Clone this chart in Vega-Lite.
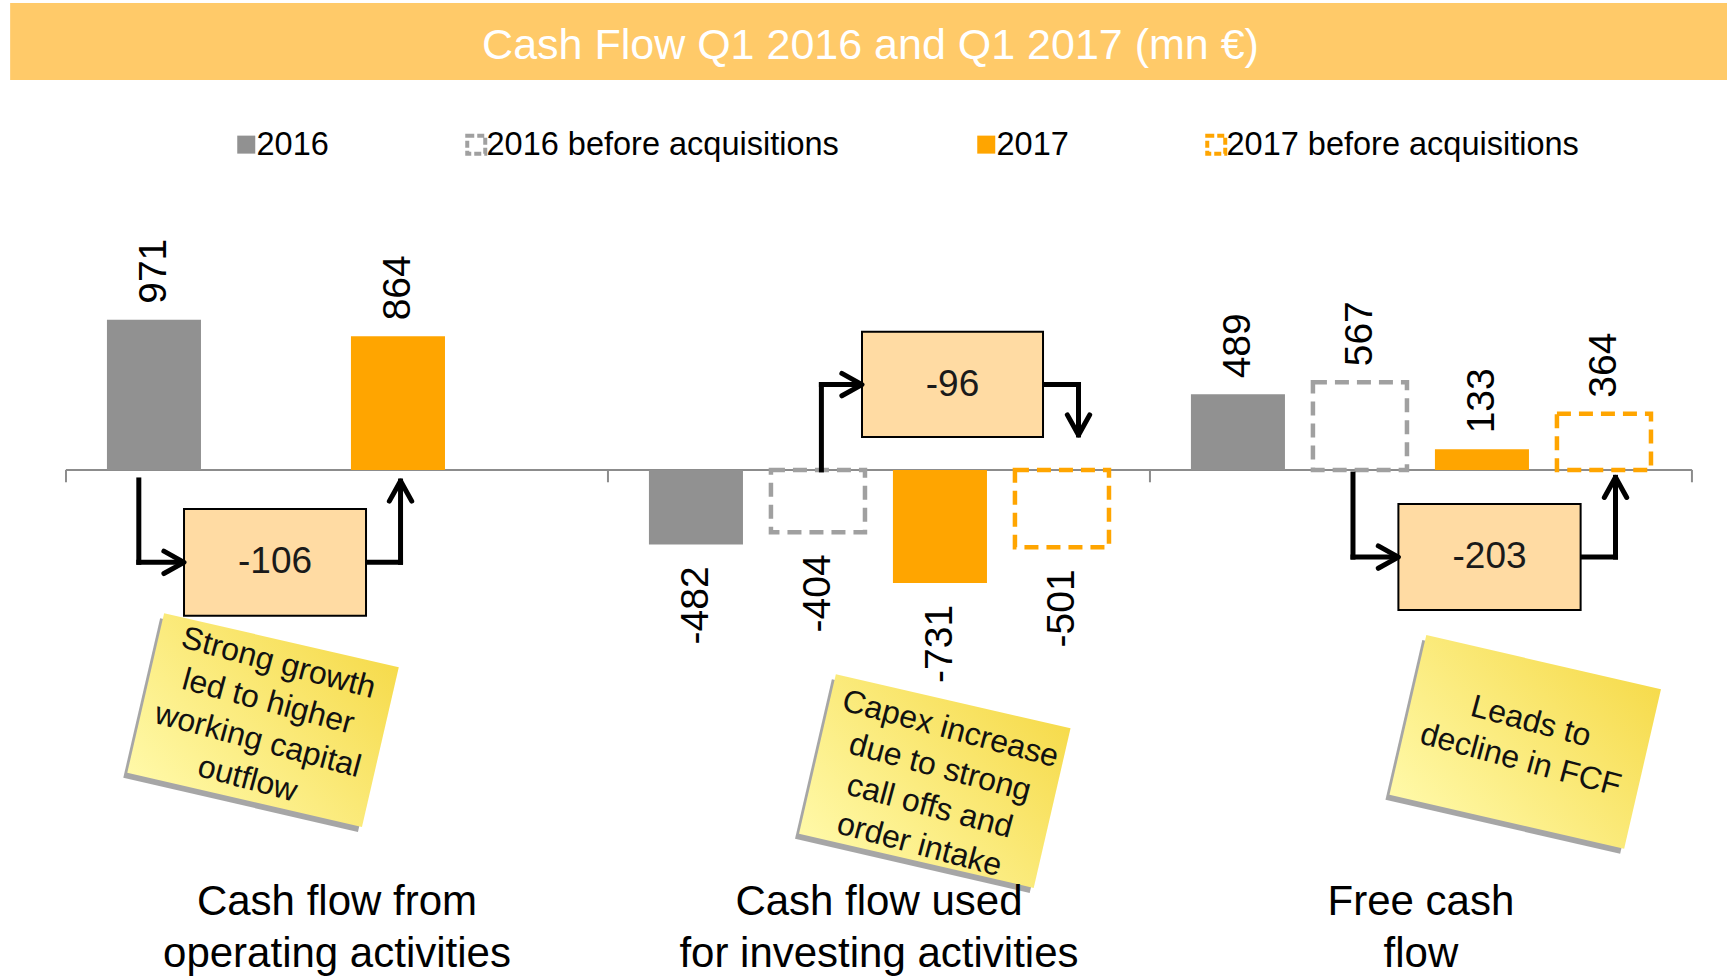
{
  "$schema": "https://vega.github.io/schema/vega-lite/v6.json",
  "width": 1727,
  "height": 980,
  "autosize": {"type": "none"},
  "padding": 0,
  "background": "white",
  "config": {
    "view": {"stroke": null},
    "font": "Liberation Sans",
    "axis": {"disable": true, "grid": false, "labels": false, "ticks": false, "domain": false},
    "legend": {"orient": "none", "legendX": 230, "legendY": 128, "direction": "horizontal", "padding": 0, "title": null,
               "labelFontSize": 32.5, "labelFont": "Liberation Sans", "labelColor": "#000000", "labelLimit": 800,
               "symbolSize": 324, "symbolType": "square", "columnPadding": 130, "labelOffset": -6,
               "symbolStrokeWidth": 4, "symbolDash": [7, 3], "symbolOpacity": 1}
  },
  "datasets": {
    "flows": [
      {"group": "Cash flow from operating activities", "series": "2016", "value": 971},
      {"group": "Cash flow from operating activities", "series": "2017", "value": 864},
      {"group": "Cash flow used for investing activities", "series": "2016", "value": -482},
      {"group": "Cash flow used for investing activities", "series": "2016 before acquisitions", "value": -404},
      {"group": "Cash flow used for investing activities", "series": "2017", "value": -731},
      {"group": "Cash flow used for investing activities", "series": "2017 before acquisitions", "value": -501},
      {"group": "Free cash flow", "series": "2016", "value": 489},
      {"group": "Free cash flow", "series": "2016 before acquisitions", "value": 567},
      {"group": "Free cash flow", "series": "2017", "value": 133},
      {"group": "Free cash flow", "series": "2017 before acquisitions", "value": 364}
    ],
    "cats": [
      {"group": "Cash flow from operating activities", "label": "Cash flow from\noperating activities"},
      {"group": "Cash flow used for investing activities", "label": "Cash flow used\nfor investing activities"},
      {"group": "Free cash flow", "label": "Free cash\nflow"}
    ]
  },
  "layer": [
    {
      "data": {"values": [{"a": "Cash flow from operating activities", "b": "Free cash flow"}]},
      "mark": {"type": "rect", "color": "#FFCA69"},
      "encoding": {
        "x": {"field": "a", "type": "nominal", "bandPosition": -0.103},
        "x2": {"field": "b", "bandPosition": 1.07},
        "y": {"datum": 3020, "type": "quantitative"}, "y2": {"datum": 2522}}
    },
    {
      "data": {"values": [{}]},
      "mark": {"type": "text", "text": "Cash Flow Q1 2016 and Q1 2017 (mn €)", "fontSize": 43, "color": "white", "baseline": "middle", "dx": 7},
      "encoding": {"y": {"datum": 2742, "type": "quantitative"}}
    },
    {
      "data": {"values": [{"a": "Cash flow from operating activities", "b": "Free cash flow"}]},
      "mark": {"type": "rule", "color": "#8C8C8C", "strokeWidth": 2},
      "encoding": {
        "x": {"field": "a", "type": "nominal", "bandPosition": 0},
        "x2": {"field": "b", "bandPosition": 1},
        "y": {"datum": 0, "type": "quantitative"}
      }
    },
    {
      "data": {"name": "cats"},
      "mark": {"type": "rule", "color": "#8C8C8C", "strokeWidth": 2},
      "encoding": {
        "x": {"field": "group", "type": "nominal", "bandPosition": 0},
        "y": {"datum": 0, "type": "quantitative"},
        "y2": {"datum": -80}
      }
    },
    {
      "data": {"values": [{"group": "Free cash flow"}]},
      "mark": {"type": "rule", "color": "#8C8C8C", "strokeWidth": 2},
      "encoding": {
        "x": {"field": "group", "type": "nominal", "bandPosition": 1},
        "y": {"datum": 0, "type": "quantitative"},
        "y2": {"datum": -80}
      }
    },

    {
      "data": {"name": "flows"},
      "transform": [{"filter": "datum.series == '2016'"}],
      "layer": [
        {"mark": {"type": "rect", "strokeWidth": 4},
         "encoding": {
           "x": {"field": "group", "type": "nominal", "bandPosition": 0.0756, "axis": null,
                 "scale": {"type": "band", "domain": ["Cash flow from operating activities", "Cash flow used for investing activities", "Free cash flow"], "paddingInner": 0, "paddingOuter": 0.0932, "align": 0.653}},
           "x2": {"field": "group", "bandPosition": 0.2491},
           "y": {"field": "value", "type": "quantitative", "axis": null, "scale": {"domain": [-3300, 3040], "nice": false, "zero": false}},
           "y2": {"datum": 0},
           "color": {"field": "series", "type": "nominal",
              "scale": {"domain": ["2016", "2016 before acquisitions", "2017", "2017 before acquisitions"], "range": ["#919191", "white", "#FFA500", "white"]},
              "legend": {"title": null}},
           "stroke": {"field": "series", "type": "nominal",
              "scale": {"domain": ["2016", "2016 before acquisitions", "2017", "2017 before acquisitions"], "range": ["transparent", "#A0A0A0", "transparent", "#FFA500"]},
              "legend": {"title": null}}
         }},
        {"transform": [{"filter": "datum.value > 0"}],
         "mark": {"type": "text", "angle": 270, "align": "left", "baseline": "middle", "dx": 16, "fontSize": 39, "color": "#000000"},
         "encoding": {"x": {"field": "group", "type": "nominal", "bandPosition": 0.1624}, "y": {"field": "value", "type": "quantitative"}, "text": {"field": "value", "type": "nominal"}}},
        {"transform": [{"filter": "datum.value < 0"}],
         "mark": {"type": "text", "angle": 270, "align": "right", "baseline": "middle", "dx": -22, "fontSize": 39, "color": "#000000"},
         "encoding": {"x": {"field": "group", "type": "nominal", "bandPosition": 0.1624}, "y": {"field": "value", "type": "quantitative"}, "text": {"field": "value", "type": "nominal"}}}
      ]
    },
    {
      "data": {"name": "flows"},
      "transform": [{"filter": "datum.series == '2016 before acquisitions'"}],
      "layer": [
        {"mark": {"type": "rect", "fillOpacity": 0, "strokeWidth": 4.5, "strokeDash": [14, 8]},
         "encoding": {
           "x": {"field": "group", "type": "nominal", "bandPosition": 0.3007},
           "x2": {"field": "group", "bandPosition": 0.4742},
           "y": {"field": "value", "type": "quantitative"},
           "y2": {"datum": 0},
           "color": {"field": "series", "type": "nominal", "legend": null},
           "stroke": {"field": "series", "type": "nominal", "legend": null}
         }},
        {"transform": [{"filter": "datum.value > 0"}],
         "mark": {"type": "text", "angle": 270, "align": "left", "baseline": "middle", "dx": 16, "fontSize": 39, "color": "#000000"},
         "encoding": {"x": {"field": "group", "type": "nominal", "bandPosition": 0.3875}, "y": {"field": "value", "type": "quantitative"}, "text": {"field": "value", "type": "nominal"}}},
        {"transform": [{"filter": "datum.value < 0"}],
         "mark": {"type": "text", "angle": 270, "align": "right", "baseline": "middle", "dx": -22, "fontSize": 39, "color": "#000000"},
         "encoding": {"x": {"field": "group", "type": "nominal", "bandPosition": 0.3875}, "y": {"field": "value", "type": "quantitative"}, "text": {"field": "value", "type": "nominal"}}}
      ]
    },
    {
      "data": {"name": "flows"},
      "transform": [{"filter": "datum.series == '2017'"}],
      "layer": [
        {"mark": {"type": "rect", "strokeWidth": 4},
         "encoding": {
           "x": {"field": "group", "type": "nominal", "bandPosition": 0.5258},
           "x2": {"field": "group", "bandPosition": 0.6993},
           "y": {"field": "value", "type": "quantitative"},
           "y2": {"datum": 0},
           "color": {"field": "series", "type": "nominal", "legend": null},
           "stroke": {"field": "series", "type": "nominal", "legend": null}
         }},
        {"transform": [{"filter": "datum.value > 0"}],
         "mark": {"type": "text", "angle": 270, "align": "left", "baseline": "middle", "dx": 16, "fontSize": 39, "color": "#000000"},
         "encoding": {"x": {"field": "group", "type": "nominal", "bandPosition": 0.6125}, "y": {"field": "value", "type": "quantitative"}, "text": {"field": "value", "type": "nominal"}}},
        {"transform": [{"filter": "datum.value < 0"}],
         "mark": {"type": "text", "angle": 270, "align": "right", "baseline": "middle", "dx": -22, "fontSize": 39, "color": "#000000"},
         "encoding": {"x": {"field": "group", "type": "nominal", "bandPosition": 0.6125}, "y": {"field": "value", "type": "quantitative"}, "text": {"field": "value", "type": "nominal"}}}
      ]
    },
    {
      "data": {"name": "flows"},
      "transform": [{"filter": "datum.series == '2017 before acquisitions'"}],
      "layer": [
        {"mark": {"type": "rect", "fillOpacity": 0, "strokeWidth": 4.5, "strokeDash": [14, 8]},
         "encoding": {
           "x": {"field": "group", "type": "nominal", "bandPosition": 0.7509},
           "x2": {"field": "group", "bandPosition": 0.9244},
           "y": {"field": "value", "type": "quantitative"},
           "y2": {"datum": 0},
           "color": {"field": "series", "type": "nominal", "legend": null},
           "stroke": {"field": "series", "type": "nominal", "legend": null}
         }},
        {"transform": [{"filter": "datum.value > 0"}],
         "mark": {"type": "text", "angle": 270, "align": "left", "baseline": "middle", "dx": 16, "fontSize": 39, "color": "#000000"},
         "encoding": {"x": {"field": "group", "type": "nominal", "bandPosition": 0.8376}, "y": {"field": "value", "type": "quantitative"}, "text": {"field": "value", "type": "nominal"}}},
        {"transform": [{"filter": "datum.value < 0"}],
         "mark": {"type": "text", "angle": 270, "align": "right", "baseline": "middle", "dx": -22, "fontSize": 39, "color": "#000000"},
         "encoding": {"x": {"field": "group", "type": "nominal", "bandPosition": 0.8376}, "y": {"field": "value", "type": "quantitative"}, "text": {"field": "value", "type": "nominal"}}}
      ]
    },

    {"data": {"values": [{"group": "Cash flow from operating activities"}]}, "mark": {"type": "rule", "color": "black", "strokeWidth": 5, "strokeCap": "square"},
     "encoding": {"x": {"field": "group", "type": "nominal", "bandPosition": 0.1344}, "y": {"datum": -65, "type": "quantitative"}, "y2": {"datum": -598}}},
    {"data": {"values": [{"group": "Cash flow from operating activities"}]}, "mark": {"type": "rule", "color": "black", "strokeWidth": 5, "strokeCap": "square"},
     "encoding": {"x": {"field": "group", "type": "nominal", "bandPosition": 0.1344}, "x2": {"field": "group", "bandPosition": 0.2178}, "y": {"datum": -598, "type": "quantitative"}}},
    {"data": {"values": [{"group": "Cash flow from operating activities"}]}, "mark": {"type": "rule", "color": "black", "strokeWidth": 5, "strokeCap": "square"},
     "encoding": {"x": {"field": "group", "type": "nominal", "bandPosition": 0.5536}, "x2": {"field": "group", "bandPosition": 0.6173}, "y": {"datum": -598, "type": "quantitative"}}},
    {"data": {"values": [{"group": "Cash flow from operating activities"}]}, "mark": {"type": "rule", "color": "black", "strokeWidth": 5, "strokeCap": "square"},
     "encoding": {"x": {"field": "group", "type": "nominal", "bandPosition": 0.6173}, "y": {"datum": -598, "type": "quantitative"}, "y2": {"datum": -72}}},

    {"data": {"values": [{"group": "Cash flow used for investing activities"}]}, "mark": {"type": "rule", "color": "black", "strokeWidth": 5, "strokeCap": "square"},
     "encoding": {"x": {"field": "group", "type": "nominal", "bandPosition": 0.3938}, "y": {"datum": 0, "type": "quantitative"}, "y2": {"datum": 552}}},
    {"data": {"values": [{"group": "Cash flow used for investing activities"}]}, "mark": {"type": "rule", "color": "black", "strokeWidth": 5, "strokeCap": "square"},
     "encoding": {"x": {"field": "group", "type": "nominal", "bandPosition": 0.3938}, "x2": {"field": "group", "bandPosition": 0.4687}, "y": {"datum": 552, "type": "quantitative"}}},
    {"data": {"values": [{"group": "Cash flow used for investing activities"}]}, "mark": {"type": "rule", "color": "black", "strokeWidth": 5, "strokeCap": "square"},
     "encoding": {"x": {"field": "group", "type": "nominal", "bandPosition": 0.8027}, "x2": {"field": "group", "bandPosition": 0.8682}, "y": {"datum": 552, "type": "quantitative"}}},
    {"data": {"values": [{"group": "Cash flow used for investing activities"}]}, "mark": {"type": "rule", "color": "black", "strokeWidth": 5, "strokeCap": "square"},
     "encoding": {"x": {"field": "group", "type": "nominal", "bandPosition": 0.8682}, "y": {"datum": 552, "type": "quantitative"}, "y2": {"datum": 226}}},

    {"data": {"values": [{"group": "Free cash flow"}]}, "mark": {"type": "rule", "color": "black", "strokeWidth": 5, "strokeCap": "square"},
     "encoding": {"x": {"field": "group", "type": "nominal", "bandPosition": 0.3746}, "y": {"datum": -27, "type": "quantitative"}, "y2": {"datum": -564}}},
    {"data": {"values": [{"group": "Free cash flow"}]}, "mark": {"type": "rule", "color": "black", "strokeWidth": 5, "strokeCap": "square"},
     "encoding": {"x": {"field": "group", "type": "nominal", "bandPosition": 0.3746}, "x2": {"field": "group", "bandPosition": 0.4584}, "y": {"datum": -564, "type": "quantitative"}}},
    {"data": {"values": [{"group": "Free cash flow"}]}, "mark": {"type": "rule", "color": "black", "strokeWidth": 5, "strokeCap": "square"},
     "encoding": {"x": {"field": "group", "type": "nominal", "bandPosition": 0.7946}, "x2": {"field": "group", "bandPosition": 0.859}, "y": {"datum": -564, "type": "quantitative"}}},
    {"data": {"values": [{"group": "Free cash flow"}]}, "mark": {"type": "rule", "color": "black", "strokeWidth": 5, "strokeCap": "square"},
     "encoding": {"x": {"field": "group", "type": "nominal", "bandPosition": 0.859}, "y": {"datum": -564, "type": "quantitative"}, "y2": {"datum": -48}}},

    {"data": {"values": [{"group": "Cash flow from operating activities"}]}, "mark": {"type": "rect", "fill": "#FFDBA3", "stroke": "black", "strokeWidth": 2},
     "encoding": {"x": {"field": "group", "type": "nominal", "bandPosition": 0.2178}, "x2": {"field": "group", "bandPosition": 0.5536}, "y": {"datum": -253, "type": "quantitative"}, "y2": {"datum": -943}}},
    {"data": {"values": [{"group": "Cash flow used for investing activities"}]}, "mark": {"type": "rect", "fill": "#FFDBA3", "stroke": "black", "strokeWidth": 2},
     "encoding": {"x": {"field": "group", "type": "nominal", "bandPosition": 0.4687}, "x2": {"field": "group", "bandPosition": 0.8027}, "y": {"datum": 894, "type": "quantitative"}, "y2": {"datum": 213}}},
    {"data": {"values": [{"group": "Free cash flow"}]}, "mark": {"type": "rect", "fill": "#FFDBA3", "stroke": "black", "strokeWidth": 2},
     "encoding": {"x": {"field": "group", "type": "nominal", "bandPosition": 0.4584}, "x2": {"field": "group", "bandPosition": 0.7946}, "y": {"datum": -221, "type": "quantitative"}, "y2": {"datum": -907}}},

    {"data": {"values": [{"group": "Cash flow from operating activities", "change": "-106"}]}, "mark": {"type": "text", "fontSize": 37, "color": "#1a1a1a", "baseline": "middle"},
     "encoding": {"x": {"field": "group", "type": "nominal", "bandPosition": 0.3857}, "y": {"datum": -598, "type": "quantitative"}, "text": {"field": "change"}}},
    {"data": {"values": [{"group": "Cash flow used for investing activities", "change": "-96"}]}, "mark": {"type": "text", "fontSize": 37, "color": "#1a1a1a", "baseline": "middle"},
     "encoding": {"x": {"field": "group", "type": "nominal", "bandPosition": 0.6357}, "y": {"datum": 552, "type": "quantitative"}, "text": {"field": "change"}}},
    {"data": {"values": [{"group": "Free cash flow", "change": "-203"}]}, "mark": {"type": "text", "fontSize": 37, "color": "#1a1a1a", "baseline": "middle"},
     "encoding": {"x": {"field": "group", "type": "nominal", "bandPosition": 0.6265}, "y": {"datum": -564, "type": "quantitative"}, "text": {"field": "change"}}},

    {"data": {"values": [{"group": "Cash flow from operating activities"}]}, "mark": {"type": "point", "shape": "M-1.8,-1L0,0L-1.8,1", "size": 500, "filled": false, "color": "black", "strokeWidth": 5, "strokeCap": "round", "strokeJoin": "round", "opacity": 1, "angle": 0},
     "encoding": {"x": {"field": "group", "type": "nominal", "bandPosition": 0.2178}, "y": {"datum": -598, "type": "quantitative"}}},
    {"data": {"values": [{"group": "Cash flow from operating activities"}]}, "mark": {"type": "point", "shape": "M-1.8,-1L0,0L-1.8,1", "size": 500, "filled": false, "color": "black", "strokeWidth": 5, "strokeCap": "round", "strokeJoin": "round", "opacity": 1, "angle": 270},
     "encoding": {"x": {"field": "group", "type": "nominal", "bandPosition": 0.6173}, "y": {"datum": -72, "type": "quantitative"}}},
    {"data": {"values": [{"group": "Cash flow used for investing activities"}]}, "mark": {"type": "point", "shape": "M-1.8,-1L0,0L-1.8,1", "size": 500, "filled": false, "color": "black", "strokeWidth": 5, "strokeCap": "round", "strokeJoin": "round", "opacity": 1, "angle": 0},
     "encoding": {"x": {"field": "group", "type": "nominal", "bandPosition": 0.4687}, "y": {"datum": 552, "type": "quantitative"}}},
    {"data": {"values": [{"group": "Cash flow used for investing activities"}]}, "mark": {"type": "point", "shape": "M-1.8,-1L0,0L-1.8,1", "size": 500, "filled": false, "color": "black", "strokeWidth": 5, "strokeCap": "round", "strokeJoin": "round", "opacity": 1, "angle": 90},
     "encoding": {"x": {"field": "group", "type": "nominal", "bandPosition": 0.8682}, "y": {"datum": 226, "type": "quantitative"}}},
    {"data": {"values": [{"group": "Free cash flow"}]}, "mark": {"type": "point", "shape": "M-1.8,-1L0,0L-1.8,1", "size": 500, "filled": false, "color": "black", "strokeWidth": 5, "strokeCap": "round", "strokeJoin": "round", "opacity": 1, "angle": 0},
     "encoding": {"x": {"field": "group", "type": "nominal", "bandPosition": 0.4584}, "y": {"datum": -564, "type": "quantitative"}}},
    {"data": {"values": [{"group": "Free cash flow"}]}, "mark": {"type": "point", "shape": "M-1.8,-1L0,0L-1.8,1", "size": 500, "filled": false, "color": "black", "strokeWidth": 5, "strokeCap": "round", "strokeJoin": "round", "opacity": 1, "angle": 270},
     "encoding": {"x": {"field": "group", "type": "nominal", "bandPosition": 0.859}, "y": {"datum": -48, "type": "quantitative"}}},

    {
      "data": {"values": [{"group": "Cash flow from operating activities", "note": "Strong growth\nled to higher\nworking capital\noutflow"}]},
      "layer": [
        {"mark": {"type": "point", "shape": "M-1,-0.68L1,-0.68L1,0.68L-1,0.68Z", "size": 58000, "filled": true, "fill": "#808080", "strokeWidth": 0, "opacity": 0.7, "angle": 13, "xOffset": -4, "yOffset": 5},
         "encoding": {"x": {"field": "group", "type": "nominal", "bandPosition": 0.3636}, "y": {"datum": -1618, "type": "quantitative"}}},
        {"mark": {"type": "point", "shape": "M-1,-0.68L1,-0.68L1,0.68L-1,0.68Z", "size": 58000, "filled": true, "strokeWidth": 0, "opacity": 1, "angle": 13,
                  "fill": {"gradient": "linear", "x1": 0, "y1": 1, "x2": 1, "y2": 0, "stops": [{"offset": 0, "color": "#FFF9A8"}, {"offset": 1, "color": "#F6DB4C"}]}},
         "encoding": {"x": {"field": "group", "type": "nominal", "bandPosition": 0.3636}, "y": {"datum": -1618, "type": "quantitative"}}},
        {"mark": {"type": "text", "fontSize": 32, "lineHeight": 40, "lineBreak": "\n", "angle": 15, "align": "center", "baseline": "middle", "color": "#111111"},
         "encoding": {"x": {"field": "group", "type": "nominal", "bandPosition": 0.3923}, "y": {"datum": -1249, "type": "quantitative"}, "text": {"field": "note"}}}
      ]
    },
    {
      "data": {"values": [{"group": "Cash flow used for investing activities", "note": "Capex increase\ndue to strong\ncall offs and\norder intake"}]},
      "layer": [
        {"mark": {"type": "point", "shape": "M-1,-0.68L1,-0.68L1,0.68L-1,0.68Z", "size": 58000, "filled": true, "fill": "#808080", "strokeWidth": 0, "opacity": 0.7, "angle": 13, "xOffset": -4, "yOffset": 5},
         "encoding": {"x": {"field": "group", "type": "nominal", "bandPosition": 0.603}, "y": {"datum": -2013, "type": "quantitative"}}},
        {"mark": {"type": "point", "shape": "M-1,-0.68L1,-0.68L1,0.68L-1,0.68Z", "size": 58000, "filled": true, "strokeWidth": 0, "opacity": 1, "angle": 13,
                  "fill": {"gradient": "linear", "x1": 0, "y1": 1, "x2": 1, "y2": 0, "stops": [{"offset": 0, "color": "#FFF9A8"}, {"offset": 1, "color": "#F6DB4C"}]}},
         "encoding": {"x": {"field": "group", "type": "nominal", "bandPosition": 0.603}, "y": {"datum": -2013, "type": "quantitative"}}},
        {"mark": {"type": "text", "fontSize": 32, "lineHeight": 40, "lineBreak": "\n", "angle": 15, "align": "center", "baseline": "middle", "color": "#111111"},
         "encoding": {"x": {"field": "group", "type": "nominal", "bandPosition": 0.632}, "y": {"datum": -1676, "type": "quantitative"}, "text": {"field": "note"}}}
      ]
    },
    {
      "data": {"values": [{"group": "Free cash flow", "note": "Leads to\ndecline in FCF"}]},
      "layer": [
        {"mark": {"type": "point", "shape": "M-1,-0.68L1,-0.68L1,0.68L-1,0.68Z", "size": 58000, "filled": true, "fill": "#808080", "strokeWidth": 0, "opacity": 0.7, "angle": 13, "xOffset": -4, "yOffset": 5},
         "encoding": {"x": {"field": "group", "type": "nominal", "bandPosition": 0.6924}, "y": {"datum": -1760, "type": "quantitative"}}},
        {"mark": {"type": "point", "shape": "M-1,-0.68L1,-0.68L1,0.68L-1,0.68Z", "size": 58000, "filled": true, "strokeWidth": 0, "opacity": 1, "angle": 13,
                  "fill": {"gradient": "linear", "x1": 0, "y1": 1, "x2": 1, "y2": 0, "stops": [{"offset": 0, "color": "#FFF9A8"}, {"offset": 1, "color": "#F6DB4C"}]}},
         "encoding": {"x": {"field": "group", "type": "nominal", "bandPosition": 0.6924}, "y": {"datum": -1760, "type": "quantitative"}}},
        {"mark": {"type": "text", "fontSize": 32, "lineHeight": 40, "lineBreak": "\n", "angle": 15, "align": "center", "baseline": "middle", "color": "#111111"},
         "encoding": {"x": {"field": "group", "type": "nominal", "bandPosition": 0.703}, "y": {"datum": -1627, "type": "quantitative"}, "text": {"field": "note"}}}
      ]
    },

    {
      "data": {"name": "cats"},
      "mark": {"type": "text", "fontSize": 42, "lineHeight": 52, "lineBreak": "\n", "align": "center", "baseline": "middle", "color": "#000000"},
      "encoding": {
        "x": {"field": "group", "type": "nominal"},
        "y": {"datum": -2796, "type": "quantitative"},
        "text": {"field": "label"}
      }
    }
  ]
}
